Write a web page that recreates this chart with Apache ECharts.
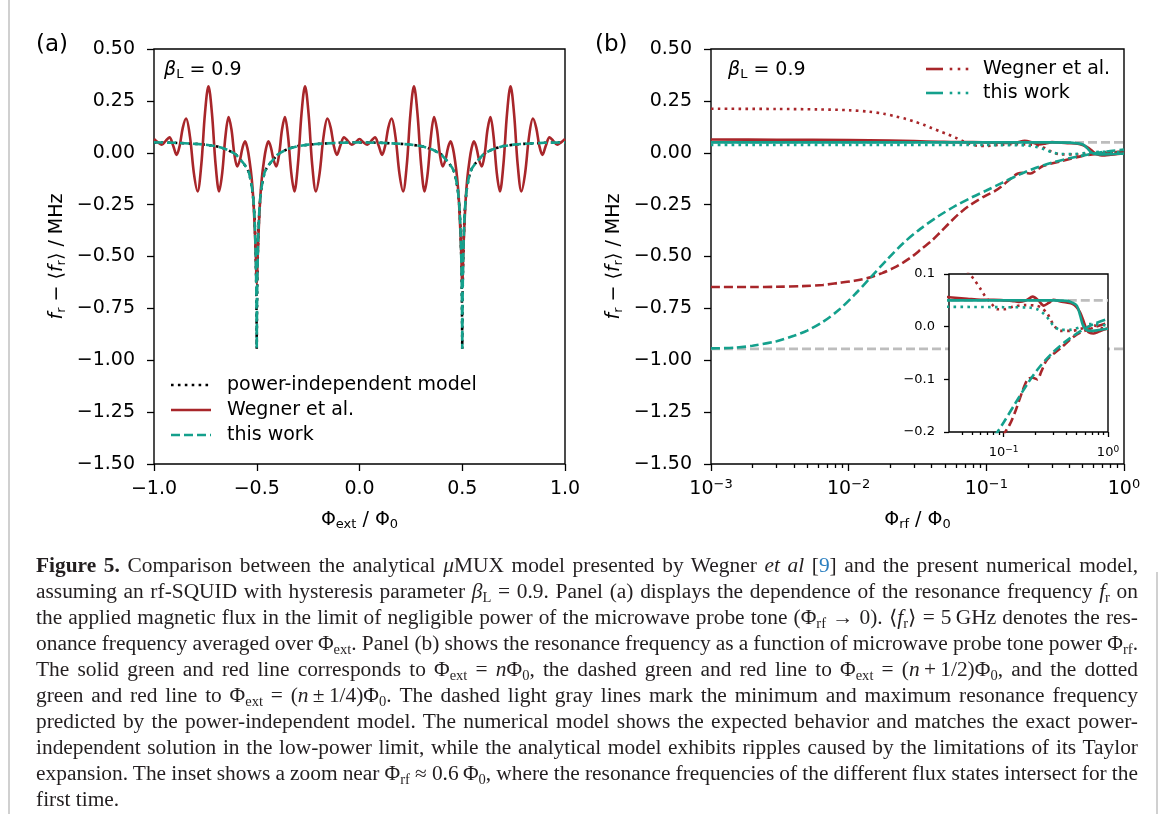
<!DOCTYPE html>
<html>
<head>
<meta charset="utf-8">
<script src="https://cdn.jsdelivr.net/npm/echarts@6/dist/echarts.min.js"></script>
<style>
  html, body { margin: 0; padding: 0; background: #fff; }
  #wrap { position: relative; width: 1171px; height: 814px; overflow: hidden; }
  #chart { position: absolute; left: 0; top: 0; width: 1171px; height: 814px; }
  .bl { position: absolute; left: 8px; top: 0; width: 2px; height: 814px; background: #d0d0d0; }
  .br { position: absolute; left: 1156px; top: 572px; width: 2px; height: 242px; background: #d0d0d0; }
  .cap { position: absolute; left: 36px; top: 552px; width: 1102px;
         font-family: 'Liberation Serif', serif; font-size: 20px; line-height: 26px; color: #231f20; }
  .ln { display: block; white-space: nowrap; height: 26px; }
  .ln > span { display: inline-block; white-space: nowrap; transform-origin: 0 50%; }
  .cap sub { font-size: 0.68em; vertical-align: -0.28em; line-height: 0; }
  .cap .ref { color: #2b7fc0; }
</style>
</head>
<body>
<div id="wrap">
  <div id="chart"></div>
  <div class="bl"></div>
  <div class="br"></div>
  <div class="cap">
    <div class="ln"><span><b>Figure 5.</b> Comparison between the analytical <i>μ</i>MUX model presented by Wegner <i>et al</i> [<span class="ref">9</span>] and the present numerical model,</span></div>
    <div class="ln"><span>assuming an rf-SQUID with hysteresis parameter <i>β</i><sub>L</sub> = 0.9. Panel (a) displays the dependence of the resonance frequency <i>f</i><sub>r</sub> on</span></div>
    <div class="ln"><span>the applied magnetic flux in the limit of negligible power of the microwave probe tone (Φ<sub>rf</sub> → 0). ⟨<i>f</i><sub>r</sub>⟩ = 5&#8201;GHz denotes the res-</span></div>
    <div class="ln"><span>onance frequency averaged over Φ<sub>ext</sub>. Panel (b) shows the resonance frequency as a function of microwave probe tone power Φ<sub>rf</sub>.</span></div>
    <div class="ln"><span>The solid green and red line corresponds to Φ<sub>ext</sub> = <i>n</i>Φ<sub>0</sub>, the dashed green and red line to Φ<sub>ext</sub> = (<i>n</i>&#8201;+&#8201;1/2)Φ<sub>0</sub>, and the dotted</span></div>
    <div class="ln"><span>green and red line to Φ<sub>ext</sub> = (<i>n</i>&#8201;±&#8201;1/4)Φ<sub>0</sub>. The dashed light gray lines mark the minimum and maximum resonance frequency</span></div>
    <div class="ln"><span>predicted by the power-independent model. The numerical model shows the expected behavior and matches the exact power-</span></div>
    <div class="ln"><span>independent solution in the low-power limit, while the analytical model exhibits ripples caused by the limitations of its Taylor</span></div>
    <div class="ln"><span>expansion. The inset shows a zoom near Φ<sub>rf</sub> ≈ 0.6&#8201;Φ<sub>0</sub>, where the resonance frequencies of the different flux states intersect for the</span></div>
    <div class="ln last"><span>first time.</span></div>
  </div>
</div>
<script>
// ---- panel (a): half period 0..0.5 of Phi_ext, mirrored by symmetry
const phiHalf    = [0, 0.019, 0.038, 0.057, 0.075, 0.093, 0.11, 0.125, 0.14, 0.156, 0.175, 0.194, 0.212, 0.23, 0.248, 0.265, 0.282, 0.3, 0.317, 0.332, 0.348, 0.363, 0.377, 0.391, 0.405, 0.418, 0.431, 0.443, 0.455, 0.465, 0.475, 0.483, 0.49, 0.495, 0.5];
const wegnerHalf = [0.066, 0.05, 0.039, 0.057, 0.074, 0.035, -0.01, 0.034, 0.12, 0.165, 0.078, -0.098, -0.186, -0.06, 0.19, 0.32, 0.19, -0.06, -0.186, -0.097, 0.082, 0.172, 0.112, -0.006, -0.066, -0.035, 0.025, 0.055, 0.02, -0.04, -0.12, -0.22, -0.36, -0.48, -0.63];
const modelPhi   = [0, 0.1, 0.2, 0.25, 0.3, 0.33, 0.36, 0.385, 0.4, 0.42, 0.435, 0.452, 0.462, 0.47, 0.478, 0.484, 0.488, 0.491, 0.493, 0.495, 0.497, 0.498, 0.499, 0.5];
const modelHalf  = [0.05, 0.048, 0.043, 0.039, 0.032, 0.024, 0.013, 0.0, -0.01, -0.033, -0.05, -0.074, -0.095, -0.13, -0.175, -0.23, -0.29, -0.36, -0.42, -0.5, -0.6, -0.67, -0.78, -0.945];

// ---- panel (b): resonance frequency vs Phi_rf
const xRedSolid  = [0.001, 0.003, 0.01, 0.02, 0.03, 0.045, 0.06, 0.08, 0.1, 0.12, 0.14, 0.165, 0.19, 0.215, 0.242, 0.27, 0.3, 0.35, 0.4, 0.46, 0.5, 0.54, 0.58, 0.626, 0.67, 0.725, 0.8, 0.9, 1.0];
const redSolid   = [0.064, 0.063, 0.061, 0.059, 0.056, 0.053, 0.051, 0.051, 0.05, 0.049, 0.047, 0.05, 0.057, 0.05, 0.04, 0.045, 0.051, 0.048, 0.046, 0.043, 0.037, 0.027, 0.012, -0.006, -0.012, -0.013, -0.01, -0.006, -0.003];
const xRedDash   = [0.001, 0.002, 0.003, 0.0046, 0.0065, 0.0085, 0.011, 0.0139, 0.0175, 0.0214, 0.025, 0.0292, 0.034, 0.0398, 0.046, 0.054, 0.063, 0.074, 0.087, 0.1, 0.115, 0.13, 0.15, 0.17, 0.19, 0.21, 0.23, 0.26, 0.35, 0.5, 0.72, 1.0];
const redDash    = [-0.647, -0.647, -0.646, -0.643, -0.637, -0.627, -0.617, -0.603, -0.58, -0.554, -0.528, -0.498, -0.462, -0.426, -0.385, -0.338, -0.295, -0.258, -0.228, -0.205, -0.185, -0.16, -0.125, -0.1, -0.097, -0.1, -0.085, -0.063, -0.041, -0.015, -0.002, 0.007];
const xRedDot    = [0.001, 0.003, 0.006, 0.01, 0.014, 0.018, 0.022, 0.026, 0.03, 0.035, 0.04, 0.046, 0.052, 0.06, 0.067, 0.077, 0.087, 0.1, 0.125, 0.16, 0.2, 0.225, 0.26, 0.3, 0.35, 0.45, 0.55, 0.65, 0.75, 0.85, 1.0];
const redDot     = [0.212, 0.211, 0.209, 0.205, 0.198, 0.188, 0.175, 0.163, 0.15, 0.135, 0.119, 0.103, 0.09, 0.072, 0.057, 0.043, 0.033, 0.033, 0.038, 0.041, 0.04, 0.037, 0.026, 0.004, -0.008, -0.008, -0.004, 0.0, 0.002, -0.002, -0.006];
const xTealSolid = [0.001, 0.01, 0.1, 0.3, 0.404, 0.45, 0.503, 0.54, 0.574, 0.617, 0.674, 0.78, 0.9, 1.0];
const tealSolid  = [0.05, 0.05, 0.05, 0.05, 0.049, 0.046, 0.04, 0.022, 0.003, -0.006, -0.008, -0.007, -0.005, -0.004];
const xTealDash  = [0.001, 0.0015, 0.002, 0.003, 0.004, 0.005, 0.0065, 0.0085, 0.011, 0.0143, 0.019, 0.025, 0.033, 0.045, 0.06, 0.08, 0.1, 0.13, 0.17, 0.22, 0.3, 0.4, 0.55, 0.75, 1.0];
const tealDash   = [-0.943, -0.939, -0.93, -0.908, -0.882, -0.857, -0.815, -0.757, -0.685, -0.604, -0.515, -0.435, -0.368, -0.305, -0.255, -0.212, -0.182, -0.145, -0.108, -0.077, -0.048, -0.027, -0.008, 0.006, 0.015];
const xTealDot   = [0.001, 0.01, 0.1, 0.18, 0.21, 0.235, 0.26, 0.28, 0.3, 0.35, 0.43, 0.54, 0.67, 0.8, 1.0];
const tealDot    = [0.038, 0.038, 0.037, 0.036, 0.033, 0.027, 0.018, 0.01, 0.002, -0.006, -0.006, -0.001, 0.005, 0.004, 0.002];
const grayLevels = [0.05, -0.945];   // min / max of the power-independent model

const majorLog = [0.001, 0.01, 0.1, 1];
const insetLog = [0.1, 1];

const RED = '#a8262a', TEAL = '#14a08c', GRAY = '#bdbdbd';
const FONT = 'DejaVu Sans';
const DOT = [2.6, 4.3], DASH = [9, 4];

function mirror(phis, vals) {
  const pts = [];
  [-1, 0, 1].forEach(c => {
    phis.forEach((p, i) => { pts.push([c - p, vals[i]]); pts.push([c + p, vals[i]]); });
  });
  const inside = pts.filter(p => p[0] >= -1 - 1e-9 && p[0] <= 1 + 1e-9).sort((a, b) => a[0] - b[0]);
  return inside.filter((p, i) => i === 0 || Math.abs(p[0] - inside[i - 1][0]) > 1e-9);
}
const zip = (xs, ys) => xs.map((x, i) => [x, ys[i]]);
const fmt = (v, d) => Math.abs(v) < 1e-9 ? (0).toFixed(d) : (v < 0 ? '\u2212' : '') + Math.abs(v).toFixed(d);
const powLabel = v => { const e = Math.round(Math.log10(v)); return '10{sup|' + (e < 0 ? '\u2212' + (-e) : e) + '}'; };

const minorMain = [], minorInset = [];
[0.001, 0.01, 0.1].forEach(d => { for (let k = 2; k <= 9; k++) minorMain.push(+(d * k).toPrecision(3)); });
for (let k = 4; k <= 9; k++) minorInset.push(+(0.01 * k).toPrecision(3));
for (let k = 2; k <= 9; k++) minorInset.push(+(0.1 * k).toPrecision(3));

const rich = {
  it:  { fontStyle: 'italic', fontSize: 19, fontFamily: FONT, color: '#000' },
  sub: { fontSize: 13, fontFamily: FONT, color: '#000', padding: [9, 0, 0, 0] },
  sup: { fontSize: 13, fontFamily: FONT, color: '#000', padding: [0, 0, 10, 0] }
};
const richSmall = {
  sup: { fontSize: 9, fontFamily: FONT, color: '#000', padding: [0, 0, 7, 0] }
};

const noLine = { show: false, onZero: false };
const tick = (len, vals) => ({ show: true, length: len, lineStyle: { color: '#000', width: 1.3 }, customValues: vals });
const yName = '{it|f}{sub|r} \u2212 \u27e8{it|f}{sub|r}\u27e9 / MHz';

function yMain(grid) {
  return {
    type: 'value', gridIndex: grid, min: -1.5, max: 0.5, interval: 0.25,
    axisLine: noLine, splitLine: { show: false },
    axisTick: { show: true, length: 7, lineStyle: { color: '#000', width: 1.3 } },
    axisLabel: { fontSize: 19, fontFamily: FONT, color: '#000', margin: 19, formatter: v => fmt(v, 2) },
    name: yName, nameLocation: 'middle', nameRotate: 90, nameGap: 86,
    nameTextStyle: { fontSize: 19, fontFamily: FONT, color: '#000', rich: rich }
  };
}

function line(data, color, type, xi, yi, extra) {
  return Object.assign({
    type: 'line', data: data, xAxisIndex: xi, yAxisIndex: yi,
    showSymbol: false, symbol: 'none', silent: true, animation: false,
    lineStyle: { color: color, width: 2.6, type: type, cap: 'butt' }, itemStyle: { color: color }
  }, extra || {});
}

const wegnerData = mirror(phiHalf, wegnerHalf);
const modelData = mirror(modelPhi, modelHalf);
const smoothB = { smooth: 0.3 };
const inset = { zlevel: 1 };

const bSeries = (xi, yi, extra) => [
  line([[0.001, grayLevels[0]], [1, grayLevels[0]]], GRAY, DASH, xi, yi, extra),
  line([[0.001, grayLevels[1]], [1, grayLevels[1]]], GRAY, DASH, xi, yi, extra),
  line(zip(xRedSolid, redSolid), RED, 'solid', xi, yi, Object.assign({}, smoothB, extra)),
  line(zip(xRedDash, redDash), RED, DASH, xi, yi, Object.assign({}, smoothB, extra)),
  line(zip(xRedDot, redDot), RED, DOT, xi, yi, Object.assign({}, smoothB, extra)),
  line(zip(xTealSolid, tealSolid), TEAL, 'solid', xi, yi, Object.assign({}, smoothB, extra)),
  line(zip(xTealDash, tealDash), TEAL, DASH, xi, yi, Object.assign({}, smoothB, extra)),
  line(zip(xTealDot, tealDot), TEAL, DOT, xi, yi, Object.assign({}, smoothB, extra))
];

const txt = (x, y, text, size, extra) => ({
  type: 'text', x: x, y: y, silent: true,
  style: Object.assign({ text: text, fontSize: size, fontFamily: FONT, fill: '#000', verticalAlign: 'middle', rich: rich }, extra || {})
});
const seg = (x1, y1, x2, color, dash) => ({
  type: 'line', silent: true, shape: { x1: x1, y1: y1, x2: x2, y2: y1 },
  style: { stroke: color, lineWidth: 2.6, lineDash: dash || null }
});
const dots = (x0, y, color) => [0, 8, 16].map(dx => ({
  type: 'rect', silent: true, shape: { x: x0 + dx - 1.3, y: y - 1.3, width: 2.6, height: 2.6 }, style: { fill: color }
}));

const chart = echarts.init(document.getElementById('chart'), null, { renderer: 'canvas' });
const option = {
  animation: false,
  backgroundColor: '#fff',
  grid: [
    { left: 154, top: 49, width: 411, height: 415, show: true, backgroundColor: 'transparent', borderColor: '#000', borderWidth: 1.4 },
    { left: 711, top: 49, width: 413, height: 415, show: true, backgroundColor: 'transparent', borderColor: '#000', borderWidth: 1.4 },
    { left: 949, top: 274, width: 159, height: 158, show: true, backgroundColor: '#fff', borderColor: '#000', borderWidth: 1.4, zlevel: 1 }
  ],
  xAxis: [
    { type: 'value', gridIndex: 0, min: -1, max: 1, interval: 0.5,
      axisLine: noLine, splitLine: { show: false },
      axisTick: { show: true, length: 7, lineStyle: { color: '#000', width: 1.3 } },
      axisLabel: { fontSize: 19, fontFamily: FONT, color: '#000', margin: 16, formatter: v => fmt(v, 1) },
      name: '\u03a6{sub|ext} / \u03a6{sub|0}', nameLocation: 'middle', nameGap: 45,
      nameTextStyle: { fontSize: 19, fontFamily: FONT, color: '#000', rich: rich } },
    { type: 'log', gridIndex: 1, min: 0.001, max: 1, logBase: 10,
      axisLine: noLine, splitLine: { show: false }, minorTick: { show: false },
      axisTick: tick(7, majorLog),
      axisLabel: { fontSize: 19, fontFamily: FONT, color: '#000', margin: 14, customValues: majorLog, formatter: powLabel, rich: rich },
      name: '\u03a6{sub|rf} / \u03a6{sub|0}', nameLocation: 'middle', nameGap: 45,
      nameTextStyle: { fontSize: 19, fontFamily: FONT, color: '#000', rich: rich } },
    { type: 'log', gridIndex: 1, position: 'bottom', min: 0.001, max: 1, logBase: 10,
      axisLine: noLine, splitLine: { show: false }, axisLabel: { show: false },
      axisTick: tick(4, minorMain) },
    { type: 'log', gridIndex: 2, min: 0.03, max: 1, logBase: 10, zlevel: 1,
      axisLine: noLine, splitLine: { show: false },
      axisTick: tick(5, insetLog),
      axisLabel: { fontSize: 13, fontFamily: FONT, color: '#000', margin: 13, customValues: insetLog, formatter: powLabel, rich: richSmall } },
    { type: 'log', gridIndex: 2, position: 'bottom', min: 0.03, max: 1, logBase: 10, zlevel: 1,
      axisLine: noLine, splitLine: { show: false }, axisLabel: { show: false },
      axisTick: tick(3, minorInset) }
  ],
  yAxis: [
    yMain(0),
    yMain(1),
    { type: 'value', gridIndex: 2, min: -0.2, max: 0.1, interval: 0.1, zlevel: 1,
      axisLine: noLine, splitLine: { show: false },
      axisTick: { show: true, length: 5, lineStyle: { color: '#000', width: 1.3 } },
      axisLabel: { fontSize: 13, fontFamily: FONT, color: '#000', margin: 14, formatter: v => fmt(v, 1) } }
  ],
  series: [
    line(modelData, '#000', DOT, 0, 0),
    line(wegnerData, RED, 'solid', 0, 0, { smooth: 0.35 }),
    line(modelData, TEAL, DASH, 0, 0),
    ...bSeries(1, 1),
    ...bSeries(3, 2, inset)
  ],
  graphic: [
    txt(36, 45, '(a)', 23),
    txt(595, 45, '(b)', 23),
    txt(164, 70, '{it|\u03b2}{sub|L} = 0.9', 19),
    txt(728, 70, '{it|\u03b2}{sub|L} = 0.9', 19),
    // legend (a)
    seg(171, 385, 211, '#000', DOT),
    seg(171, 410, 211, RED),
    seg(171, 435, 211, TEAL, DASH),
    txt(227, 385, 'power-independent model', 19),
    txt(227, 410, 'Wegner et al.', 19),
    txt(227, 435, 'this work', 19),
    // legend (b)
    seg(926, 69, 943, RED),
    ...dots(951, 69, RED),
    seg(926, 93, 943, TEAL),
    ...dots(951, 93, TEAL),
    txt(983, 69, 'Wegner et al.', 19),
    txt(983, 93, 'this work', 19)
  ]
};
chart.setOption(option);

// caption: widen glyphs a little, then justify each full line to the column width
const W = 1102, S = 1.07;
document.querySelectorAll('.cap .ln').forEach(el => {
  const span = el.firstElementChild;
  const w = span.getBoundingClientRect().width;
  if (!el.classList.contains('last')) {
    const n = (span.textContent.match(/ /g) || []).length;
    if (n > 0) span.style.wordSpacing = ((W / S - w) / n) + 'px';
  }
  span.style.transform = 'scaleX(' + S + ')';
});
</script>
</body>
</html>
